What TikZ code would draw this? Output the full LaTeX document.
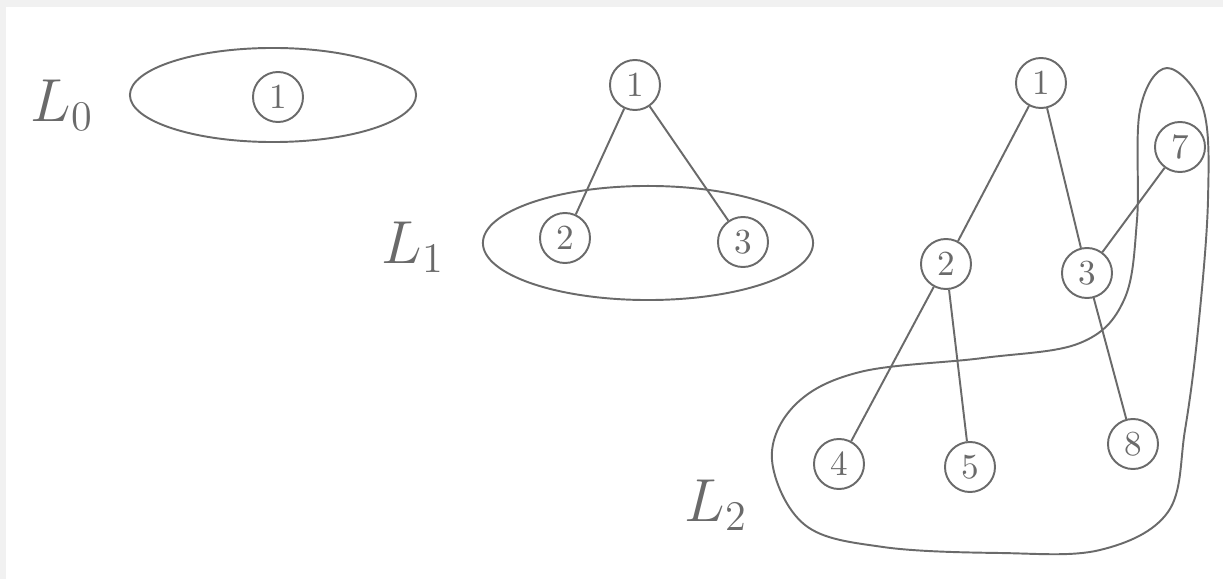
\documentclass[tikz,border=0pt]{standalone}
\usepackage{tikz}
\usepackage{xcolor}
\usetikzlibrary{positioning,shapes.geometric}
\definecolor{sketchInk}{HTML}{6A6A6A}
\definecolor{sketchPaper}{HTML}{F1F1F1}

\begin{document}
\begin{tikzpicture}[x=0.01cm,y=-0.01cm,
    every node/.style={font=\normalsize, text=sketchInk},
    vertex/.style={circle, draw=sketchInk, line width=0.55pt, minimum size=0.5cm, inner sep=0pt},
    level/.style={font=\LARGE},
    ink/.style={draw=sketchInk, line width=0.55pt}]
    \useasboundingbox (0,0) rectangle (1223,579);
    \fill[sketchPaper] (0,0) rectangle (1223,579);
    \fill[white] (6,7) rectangle (1223,579);
    % level 0
    \node[level] (lzero) at (62,105) {$L_0$};
    \draw[ink] (273,95) ellipse [x radius=1.43cm, y radius=0.47cm];
    \node[vertex] (a1) at (278,97) {1};
    % level 1
    \node[level] (lone) at (413,247) {$L_1$};
    \draw[ink] (648,243) ellipse [x radius=1.65cm, y radius=0.57cm];
    \node[vertex] (b1) at (635,85) {1};
    \node[vertex] (b2) at (565,238) {2};
    \node[vertex] (b3) at (743,242) {3};
    \draw[ink] (b1) -- (b2);
    \draw[ink] (b1) -- (b3);
    % level 2
    \node[level] (ltwo) at (716,505) {$L_2$};
    \draw[ink] plot[smooth cycle, tension=0.6] coordinates {
      (1167,68) (1203,108) (1208,200) (1198,330) (1185,430) (1168,512)
      (1100,550) (1000,553) (883,547) (805,525) (772,460) (795,405)
      (860,372) (983,358) (1080,343) (1124,300) (1137,220) (1140,110)};
    \node[vertex] (c1) at (1041,83) {1};
    \node[vertex] (c2) at (946,264) {2};
    \node[vertex] (c3) at (1087,273) {3};
    \node[vertex] (c7) at (1180,147) {7};
    \node[vertex] (c4) at (839,464) {4};
    \node[vertex] (c5) at (970,467) {5};
    \node[vertex] (c8) at (1133,444) {8};
    \draw[ink] (c1) -- (c2);
    \draw[ink] (c1) -- (c3);
    \draw[ink] (c3) -- (c7);
    \draw[ink] (c2) -- (c4);
    \draw[ink] (c2) -- (c5);
    \draw[ink] (c3) -- (c8);
\end{tikzpicture}
\end{document}
